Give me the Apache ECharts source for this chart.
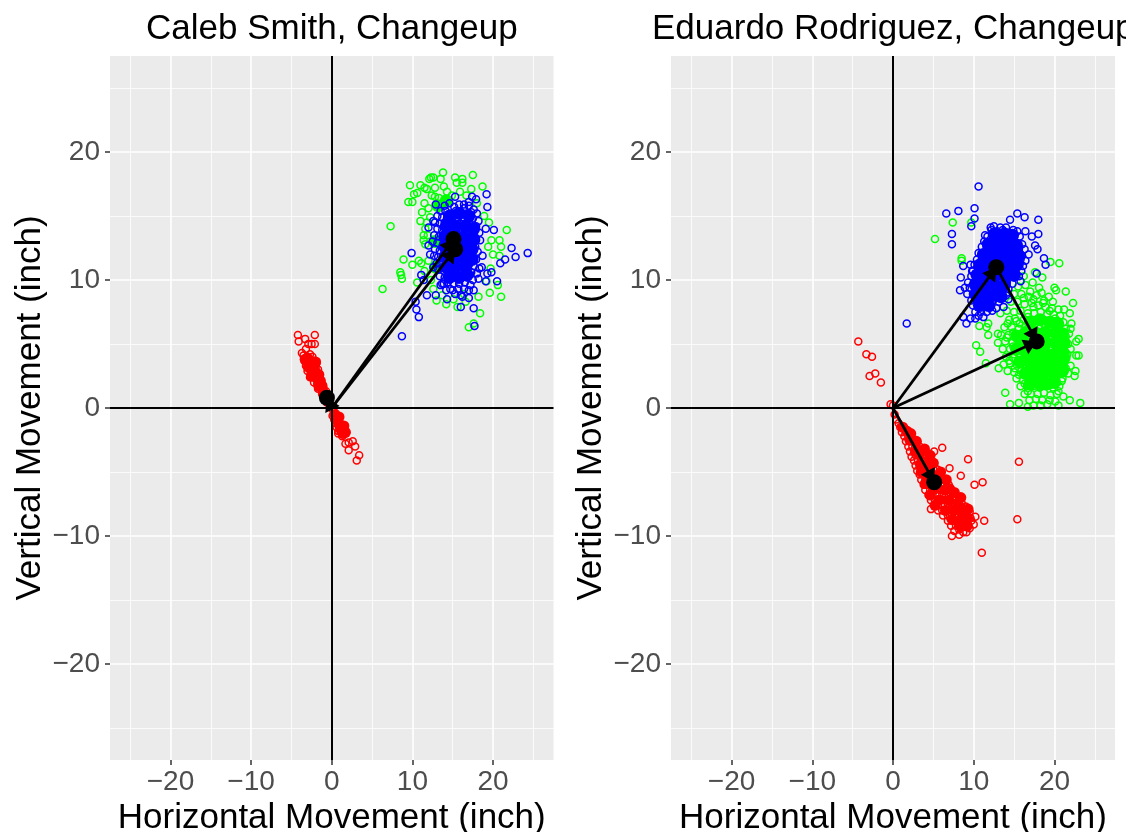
<!DOCTYPE html>
<html>
<head>
<meta charset="utf-8">
<title>Pitch movement, changeup</title>
<script src="https://cdn.jsdelivr.net/npm/echarts@6/dist/echarts.min.js"></script>
<style>
  html, body { margin: 0; padding: 0; background: #fff; }
  #chart { width: 1126px; height: 832px; }
</style>
</head>
<body>
<div id="chart"></div>
<script>
// tick positions
const majorValues = [-20, -10, 0, 10, 20]
const minorValues = [-25, -15, -5, 5, 15, 25]
const axisMin = -27.5
const axisMax = 27.5

const panelTitles = ['Caleb Smith, Changeup', 'Eduardo Rodriguez, Changeup']

// Caleb Smith (inches)
const smithRed = [[-4.2,5.7],[-2.1,5.7],[-4.1,5.2],[-3.3,5.4],[-2.9,5.0],[-2.5,5.0],[-2.1,5.0],[-3.7,4.3],[-3.2,4.6],[-3.5,4.1],[-3.1,4.0],[-2.7,4.2],[-2.4,4.0],[-3.4,3.7],[-3.0,3.6],[-2.6,3.6],[-2.2,3.7],[-1.9,3.5],[-3.2,3.3],[-2.8,3.2],[-2.4,3.2],[-2.0,3.2],[-1.7,3.0],[-3.0,2.9],[-2.6,2.8],[-2.2,2.8],[-1.8,2.7],[-1.5,2.6],[-2.7,2.4],[-2.3,2.4],[-1.9,2.3],[-1.5,2.2],[-2.2,2.0],[-1.8,1.9],[-1.4,1.9],[-1.1,1.8],[-1.7,1.5],[-1.3,1.5],[-1.0,1.4],[-0.7,1.3],[-1.2,1.1],[-0.9,1.0],[-0.5,0.9],[-0.8,0.6],[-0.4,0.5],[-0.2,0.2],[0.1,-0.1],[0.3,-0.3],[0.1,-0.6],[0.5,-0.6],[0.3,-0.9],[0.7,-0.9],[0.5,-1.2],[0.9,-1.1],[1.1,-1.3],[0.6,-1.5],[0.9,-1.5],[1.3,-1.6],[0.8,-1.8],[1.1,-1.9],[1.5,-1.9],[0.8,-2.0],[1.3,-2.2],[1.7,-2.8],[2.1,-2.7],[2.9,-3.0],[2.6,-2.6],[2.1,-3.3],[3.4,-3.7],[3.1,-4.1]]
const smithGreen = [[13.8,18.4],[12.3,18.0],[12.6,18.0],[12.1,17.9],[15.3,18.0],[16.2,17.9],[15.5,17.6],[16.2,17.6],[17.5,18.2],[9.7,17.4],[11.0,17.4],[11.5,17.2],[11.8,17.1],[10.6,16.8],[10.2,16.7],[12.8,17.2],[13.9,17.3],[13.5,17.9],[17.3,17.1],[18.7,17.3],[9.5,16.1],[10.0,16.1],[12.4,16.6],[12.8,16.5],[11.2,15.3],[7.3,14.2],[21.7,13.9],[19.8,13.1],[20.8,13.1],[21.0,12.6],[20.8,11.9],[8.9,11.6],[10.0,11.2],[10.8,11.5],[11.1,11.3],[8.5,10.6],[8.6,10.4],[8.7,10.1],[10.6,9.8],[6.3,9.3],[19.6,9.0],[21.0,8.7],[20.6,9.6],[18.4,7.4],[17.0,6.3],[17.6,6.6],[13.0,8.4],[14.2,8.1],[16.6,8.3],[11.4,13.1],[11.4,13.5],[11.6,12.8],[11.8,14.5],[12.2,14.9],[11.5,16.0],[12.0,15.6],[13.3,16.4],[14.3,16.9],[14.9,16.6],[15.9,16.9],[16.7,16.6],[18.0,16.0],[11.0,14.6],[11.6,14.0],[11.9,13.5],[12.0,11.5],[11.5,10.7],[12.3,10.0],[12.6,9.3],[13.7,8.8],[15.1,8.5],[15.6,7.9],[16.4,8.9],[18.2,8.7],[19.2,9.9],[19.7,10.9],[20.0,12.0],[19.4,12.6],[19.5,14.5],[18.9,15.0]]
const smithBlue = [[19.2,16.7],[19.3,15.7],[17.4,16.5],[17.9,16.3],[17.0,16.1],[16.4,15.9],[15.3,16.5],[12.9,15.9],[19.1,14.0],[20.1,13.9],[18.4,13.1],[18.7,11.9],[22.3,12.5],[22.8,11.8],[24.3,12.1],[21.5,11.6],[20.9,11.3],[19.8,10.6],[19.3,10.5],[20.5,9.9],[18.6,11.0],[9.9,12.1],[11.1,10.4],[11.4,10.0],[12.9,8.8],[11.8,8.8],[10.4,8.3],[10.5,7.7],[10.8,7.1],[8.7,5.6],[16.0,7.9],[17.6,7.8],[17.7,6.4],[14.3,8.5],[16.2,8.7],[17.6,9.2],[19.1,9.9],[12.0,14.1],[12.6,14.6],[12.0,12.7],[12.2,12.0],[12.6,11.0],[13.5,9.6],[14.7,9.3],[13.9,9.7],
[14.0,15.8],[14.6,16.0],[15.2,15.7],[15.8,15.9],[16.4,15.6],[17.0,15.8],[17.6,15.5],[13.5,15.4],[14.1,15.4],[14.8,15.2],[15.4,15.4],[16.0,15.3],[16.7,15.2],[17.3,15.3],[18.0,15.2],[13.1,15.0],[13.7,14.9],[14.3,14.8],[15.0,14.9],[15.6,14.7],[16.3,14.9],[16.9,14.7],[17.5,14.8],[18.2,14.6],[12.8,14.5],[13.4,14.4],[14.0,14.5],[14.6,14.3],[15.3,14.3],[15.9,14.4],[16.6,14.2],[17.2,14.3],[17.9,14.2],[13.1,14.0],[13.7,13.9],[14.3,13.9],[15.0,13.8],[15.7,13.9],[16.3,13.8],[16.9,13.8],[17.5,13.7],[18.3,13.7],[12.7,13.5],[13.3,13.4],[14.0,13.4],[14.6,13.3],[15.4,13.3],[16.1,13.3],[16.7,13.2],[17.3,13.3],[17.9,13.1],[12.5,13.0],[13.1,12.9],[13.8,12.8],[14.4,12.8],[15.9,12.8],[16.5,12.7],[17.1,12.7],[17.8,12.6],[12.8,12.4],[13.4,12.3],[14.1,12.3],[16.2,12.3],[16.8,12.2],[17.4,12.2],[18.1,12.2],[12.7,11.9],[13.2,11.8],[13.9,11.7],[14.6,11.8],[15.3,11.7],[16.0,11.8],[16.6,11.7],[17.2,11.7],[17.9,11.6],[13.0,11.3],[13.6,11.2],[14.3,11.2],[15.0,11.3],[15.7,11.2],[16.4,11.2],[17.0,11.2],[17.6,11.1],[18.3,10.9],[13.2,10.8],[13.9,10.7],[14.6,10.7],[15.2,10.8],[15.9,10.7],[16.6,10.7],[17.3,10.6],[18.0,10.5],[13.4,10.3],[14.0,10.2],[14.7,10.2],[15.4,10.2],[16.1,10.2],[16.8,10.2],[17.5,10.0],[18.2,10.1],[13.7,9.7],[14.4,9.8],[15.1,9.7],[15.8,9.7],[16.5,9.8],[17.2,9.6],[14.2,9.2],[15.0,9.2],[15.7,9.3],[16.4,9.3],[17.0,9.2],[15.3,8.9],[16.0,8.8],[17.0,8.6]]

// Eduardo Rodriguez
const rodriguezRed = [[-4.3,5.2],[-3.3,4.2],[-2.6,4.0],[-2.9,2.5],[-2.2,2.7],[-1.5,2.0],[-0.3,0.3],[0.0,0.2],[6.1,-3.1],[5.1,-3.4],[9.3,-4.0],[7.0,-4.7],[8.4,-5.3],[11.1,-5.8],[10.1,-6.0],[15.6,-4.2],[15.4,-8.7],[11.3,-8.8],[10.2,-8.5],[11.0,-11.3],[7.3,-10.0],[8.2,-9.9],[9.1,-9.7],[10.0,-9.1],[4.7,-7.9],
[0.2,-0.5],[0.4,-0.9],[0.7,-1.2],[0.9,-1.5],[1.3,-1.5],[1.1,-1.9],[1.6,-1.9],[1.4,-2.2],[1.9,-2.2],[2.3,-2.3],[1.6,-2.6],[2.1,-2.6],[2.6,-2.6],[1.9,-3.0],[2.4,-3.0],[2.9,-2.9],[3.3,-3.0],[2.1,-3.4],[2.6,-3.4],[3.1,-3.3],[3.6,-3.4],[2.3,-3.8],[2.8,-3.7],[3.3,-3.7],[3.8,-3.7],[4.2,-3.8],[2.6,-4.1],[3.1,-4.1],[3.6,-4.1],[4.1,-4.1],[4.6,-4.1],[2.8,-4.5],[3.3,-4.5],[3.8,-4.4],[4.3,-4.5],[4.8,-4.4],[3.0,-4.9],[3.5,-4.8],[4.0,-4.9],[4.5,-4.8],[5.0,-4.8],[5.5,-4.8],[3.3,-5.2],[3.8,-5.2],[4.3,-5.3],[4.8,-5.2],[5.3,-5.2],[5.8,-5.2],[3.5,-5.6],[4.0,-5.6],[4.6,-5.6],[5.6,-5.6],[6.1,-5.6],[6.5,-5.7],[3.8,-6.0],[4.3,-6.0],[5.9,-6.0],[6.4,-6.0],[6.9,-6.0],[4.0,-6.4],[4.6,-6.4],[5.2,-6.4],[5.8,-6.4],[6.3,-6.4],[6.8,-6.4],[7.3,-6.5],[4.4,-6.8],[4.9,-6.8],[5.5,-6.8],[6.1,-6.7],[6.6,-6.8],[7.2,-6.8],[7.7,-6.9],[4.7,-7.2],[5.2,-7.2],[5.8,-7.1],[6.4,-7.2],[7.0,-7.2],[7.5,-7.2],[8.0,-7.3],[8.5,-7.4],[5.1,-7.6],[5.6,-7.6],[6.2,-7.6],[6.8,-7.5],[7.3,-7.6],[7.9,-7.6],[8.4,-7.7],[9.0,-7.7],[5.6,-8.0],[6.1,-8.0],[6.7,-8.0],[7.2,-7.9],[7.8,-8.0],[8.3,-8.0],[8.9,-8.1],[9.5,-8.1],[6.2,-8.4],[6.8,-8.4],[7.3,-8.4],[7.9,-8.4],[8.5,-8.4],[9.1,-8.5],[9.6,-8.6],[6.8,-8.8],[7.3,-8.8],[7.9,-8.8],[8.5,-8.9],[9.1,-8.9],[9.7,-8.8],[7.2,-9.2],[7.8,-9.2],[8.4,-9.3],[9.0,-9.3],[9.5,-9.4],[7.6,-9.6],[8.2,-9.5],[8.7,-9.7]]
const rodriguezGreen = [[7.4,14.5],[5.2,13.2],[9.7,14.5],[8.5,11.7],[8.5,11.5],[19.5,11.4],[20.6,11.3],[21.4,9.1],[20.0,9.4],[20.2,9.2],[22.3,8.2],[21.2,7.7],[21.9,7.4],[18.5,10.2],[17.6,10.6],[16.2,10.3],[18.1,9.4],[17.0,9.1],[19.3,8.7],[10.7,6.4],[11.8,6.6],[11.6,6.3],[11.8,5.7],[13.0,5.8],[13.0,5.1],[13.3,7.4],[10.3,4.9],[10.8,4.4],[11.5,3.5],[13.1,3.1],[13.9,1.2],[14.5,0.3],[15.6,0.4],[16.7,0.1],[17.4,0.2],[18.3,0.2],[19.1,0.3],[20.5,0.2],[21.9,0.6],[23.2,0.4],[21.1,0.9],[22.6,2.9],[22.5,2.5],[23.0,4.1],[22.7,4.1],[23.0,5.4],[22.7,5.2],[22.1,6.6],[21.8,5.8],[22.0,6.2],
[15.5,9.5],[16.4,9.6],[17.3,9.8],[18.4,9.0],[15.0,8.9],[15.9,8.9],[16.8,8.7],[17.8,8.8],[18.7,8.4],[19.8,8.3],[14.6,8.3],[15.4,8.3],[16.3,8.1],[17.2,8.2],[18.0,8.0],[18.9,7.9],[19.7,7.8],[20.5,7.7],[14.1,7.6],[15.0,7.5],[15.8,7.6],[16.7,7.4],[17.5,7.4],[18.3,7.5],[19.1,7.3],[19.9,7.3],[20.7,7.2],[14.4,6.9],[15.3,6.8],[16.2,6.9],[17.0,6.8],[17.9,6.8],[18.7,6.9],[19.5,6.8],[20.3,6.7],[21.1,6.7],[13.8,6.3],[14.7,6.3],[15.6,6.2],[16.4,6.4],[17.2,6.3],[18.1,6.2],[18.9,6.3],[19.7,6.2],[20.5,6.2],[21.4,6.2],[13.4,5.7],[14.3,5.7],[15.2,5.8],[16.0,5.7],[19.0,5.7],[19.8,5.8],[20.6,5.6],[21.4,5.6],[13.9,5.2],[14.8,5.1],[15.6,5.2],[16.4,5.1],[19.3,5.2],[20.1,5.1],[20.9,5.2],[21.7,5.0],[13.6,4.6],[14.5,4.6],[15.3,4.5],[16.1,4.6],[17.0,4.4],[17.8,4.4],[18.6,4.5],[19.5,4.5],[20.3,4.6],[21.1,4.5],[22.0,4.6],[14.0,4.0],[14.9,3.9],[15.7,4.0],[16.5,4.0],[17.4,3.9],[18.2,3.9],[19.0,4.0],[19.8,3.9],[20.6,4.0],[21.4,3.9],[13.7,3.4],[14.5,3.5],[15.3,3.4],[16.1,3.4],[17.0,3.3],[17.8,3.4],[18.6,3.4],[19.4,3.3],[20.2,3.4],[21.1,3.3],[22.0,3.3],[14.2,2.9],[15.0,2.8],[15.9,2.9],[16.7,2.8],[17.5,2.8],[18.3,2.9],[19.1,2.8],[20.0,2.8],[20.8,2.8],[21.7,2.7],[15.3,2.3],[16.1,2.2],[17.0,2.3],[17.8,2.2],[18.6,2.3],[19.4,2.2],[20.2,2.2],[21.0,2.3],[15.8,1.7],[16.6,1.7],[17.4,1.7],[18.2,1.6],[19.0,1.7],[19.8,1.6],[20.6,1.7],[16.3,1.1],[17.1,1.1],[17.9,1.1],[18.7,1.2],[19.5,1.0],[20.3,1.1],[16.9,0.6],[17.7,0.7],[18.5,0.6],[19.4,0.6],[20.1,0.5],
[15.1,7.0],[15.7,6.6],[16.7,7.1],[17.4,7.9],[18.6,8.2],[19.4,7.6],[20.1,7.0],[14.2,6.6],[14.9,5.9],[15.4,5.4],[14.1,5.5],[14.9,4.8],[15.0,4.2],[14.4,3.7],[15.6,3.7],[15.1,3.1],[15.6,2.6],[16.3,1.9],[16.7,1.3],[21.3,5.2],[21.6,4.2],[21.4,3.1],[20.9,2.1],[20.5,1.3],[17.4,8.5],[16.2,8.6]]
const rodriguezBlue = [[10.6,17.3],[6.6,15.2],[8.1,15.4],[10.1,15.6],[10.1,14.8],[9.7,14.2],[7.3,13.6],[7.3,12.8],[15.4,15.2],[16.3,14.9],[18.0,14.7],[14.5,14.7],[18.0,13.6],[16.4,13.8],[15.4,13.8],[17.2,13.4],[17.6,12.7],[17.9,12.4],[18.7,11.7],[18.9,11.2],[17.8,10.5],[15.8,9.9],[16.8,12.0],[8.7,11.1],[9.6,11.2],[8.4,10.2],[9.8,10.7],[8.3,9.2],[8.9,9.4],[8.7,7.1],[9.1,6.6],[10.2,7.0],[9.6,7.0],[10.6,7.2],[13.7,7.9],[14.3,8.5],[11.4,13.5],[12.1,14.1],[12.5,14.2],[13.3,14.1],[14.0,14.1],[1.7,6.6],
[12.2,13.9],[12.9,13.8],[13.6,13.9],[14.3,13.7],[14.9,13.9],[11.7,13.4],[12.4,13.4],[13.0,13.4],[13.7,13.5],[14.4,13.3],[15.0,13.4],[15.7,13.4],[11.3,13.0],[11.9,13.0],[12.6,12.9],[13.2,13.0],[13.9,12.9],[14.6,13.0],[15.3,12.9],[16.0,12.8],[11.0,12.6],[11.6,12.5],[12.3,12.5],[12.9,12.6],[13.6,12.5],[14.2,12.5],[14.9,12.6],[15.6,12.4],[16.3,12.4],[10.6,12.1],[11.3,12.1],[12.0,12.0],[12.6,12.1],[13.3,12.0],[14.0,12.1],[14.6,12.0],[15.3,12.1],[16.0,11.9],[10.4,11.6],[11.0,11.6],[11.7,11.7],[13.8,11.7],[14.4,11.6],[15.1,11.6],[15.8,11.6],[16.4,11.5],[10.1,11.2],[10.8,11.2],[11.4,11.2],[14.1,11.2],[14.8,11.2],[15.5,11.1],[16.1,11.1],[9.9,10.7],[10.5,10.7],[11.2,10.8],[11.9,10.6],[12.6,10.7],[13.3,10.6],[14.0,10.7],[14.6,10.7],[15.2,10.6],[15.9,10.7],[9.7,10.3],[10.3,10.3],[11.0,10.2],[11.7,10.3],[12.3,10.2],[13.0,10.3],[13.7,10.2],[14.4,10.3],[15.0,10.2],[15.6,10.3],[9.3,9.8],[10.0,9.8],[10.6,9.9],[11.3,9.8],[12.0,9.8],[12.7,9.8],[13.4,9.8],[14.1,9.8],[14.8,9.7],[9.5,9.4],[10.2,9.3],[10.9,9.4],[11.6,9.3],[12.2,9.4],[12.9,9.3],[13.6,9.4],[14.3,9.3],[9.2,8.9],[9.9,8.9],[10.5,8.9],[11.2,8.9],[11.9,8.9],[12.6,8.8],[13.3,8.9],[14.0,8.8],[9.7,8.4],[10.4,8.4],[11.1,8.5],[11.7,8.4],[12.4,8.4],[13.1,8.3],[9.9,8.0],[10.6,7.9],[11.3,7.9],[12.0,8.0],[12.8,7.8],[10.2,7.5],[10.9,7.5],[11.6,7.5],[12.3,7.6],[11.2,7.1]]

// overplotted areas where the rings merge into solid colour
const smithRedSolid = [[-3.0,3.9],[-2.4,3.6],[-2.9,3.2],[-2.2,3.0],[-2.5,2.5],[-1.8,2.3],[-1.2,1.7],[-1.6,1.7],[-1.0,1.1],[-0.5,0.5],[0.4,-0.5],[0.8,-1.1],[1.1,-1.6],[1.4,-2.0],[-3.3,3.8],[-2.0,3.6],[-2.0,2.8],[-1.6,2.6],[-1.4,2.1],[1.7,-1.9],[0.9,-0.7],[1.5,-1.4]]
const smithGreenSolid = [[13.2,15.8],[14.2,16.2],[12.8,13.0],[12.9,11.0]]
const smithBlueSolid = [[14.6,15.0],[15.8,15.2],[17.0,15.0],[14.2,14.2],[15.4,14.2],[16.6,14.2],[17.6,14.0],[14.0,13.4],[15.2,13.4],[16.4,13.4],[17.6,13.2],[14.0,12.6],[15.2,12.6],[16.4,12.6],[17.4,12.4],[14.0,11.8],[15.2,11.8],[16.4,11.8],[17.4,11.6],[14.2,11.0],[15.4,11.0],[16.6,11.0],[14.6,10.2],[15.8,10.2],[16.8,10.4]]
const rodriguezRedSolid = [[1.2,-1.5],[2.1,-2.5],[2.8,-3.4],[3.4,-3.5],[3.4,-4.4],[4.4,-4.5],[4.2,-5.4],[5.4,-5.4],[5.1,-6.3],[6.4,-6.4],[5.7,-7.2],[6.9,-7.2],[8.0,-7.5],[6.5,-8.0],[7.6,-8.0],[8.7,-8.1],[7.3,-8.7],[8.4,-8.7],[9.2,-8.6],[8.3,-9.2],[4.6,-3.7],[3.9,-3.2],[2.2,-2.0],[1.7,-1.8],[2.9,-2.6],[5.0,-4.3],[5.9,-5.0],[6.6,-5.6],[7.0,-6.3],[7.6,-6.6],[8.4,-7.0],[3.5,-5.0],[4.0,-5.9],[4.6,-6.8],[5.2,-7.6],[9.3,-7.9],[9.2,-9.2]]
const rodriguezGreenSolid = [[17.0,6.7],[18.2,6.9],[19.4,6.7],[20.4,6.6],[16.4,5.9],[17.6,5.9],[18.8,5.9],[20.1,5.9],[21.0,5.8],[16.3,5.1],[17.6,5.1],[18.9,5.1],[20.2,5.1],[21.2,5.1],[16.5,4.3],[17.7,4.3],[18.9,4.3],[20.2,4.3],[21.1,4.3],[17.0,3.5],[18.2,3.5],[19.5,3.5],[20.7,3.5],[17.5,2.7],[18.6,2.7],[19.9,2.7],[18.2,1.9],[19.2,1.9],[20.0,2.0],[15.4,5.6],[15.3,4.6],[15.7,3.6],[16.4,2.7],[17.0,1.9],[21.2,3.9],[21.0,2.9]]
const rodriguezBlueSolid = [[12.6,13.6],[13.8,13.6],[14.8,13.5],[11.8,12.8],[13.0,12.8],[14.2,12.8],[15.3,12.7],[11.2,12.0],[12.4,12.0],[13.6,12.0],[14.8,12.0],[15.6,11.9],[10.8,11.2],[12.0,11.2],[13.2,11.2],[14.4,11.2],[15.4,11.2],[10.4,10.4],[11.6,10.4],[12.8,10.4],[14.0,10.4],[15.0,10.4],[10.2,9.6],[11.4,9.6],[12.6,9.6],[13.8,9.6],[10.3,8.8],[11.5,8.8],[12.7,8.8],[13.4,8.7],[10.7,8.0],[11.9,8.0]]

// group means: [red, green, blue]
const smithMeans = [[-0.6, 0.8], [15.1, 13.2], [15.3, 12.4]]
const rodriguezMeans = [[5.1, -5.8], [17.8, 5.2], [12.8, 11.0]]

// tick length in axis units, 5px on each axis
const tickLengthX = 0.62
const tickLengthY = 0.39

// arrow head with its tip at the centre of the symbol box, so the tip lands on the mean
const arrowHead = 'path://M13,13L21,26L5,26ZM0,0L0,0ZM26,0L26,0Z'

function linesSeries(data, color, width, z, index, extra) {
  return Object.assign({
    type: 'lines',
    coordinateSystem: 'cartesian2d',
    xAxisIndex: index,
    yAxisIndex: index,
    silent: true,
    symbol: 'none',
    z: z,
    lineStyle: {color: color, width: width, opacity: 1},
    data: data
  }, extra)
}

function gridLines(values) {
  const data = []
  values.forEach(v => {
    data.push({coords: [[v, axisMin], [v, axisMax]]})
    data.push({coords: [[axisMin, v], [axisMax, v]]})
  })
  return data
}

function tickLines() {
  const data = []
  majorValues.forEach(v => {
    data.push({coords: [[v, axisMin], [v, axisMin - tickLengthY]]})
    data.push({coords: [[axisMin, v], [axisMin - tickLengthX, v]]})
  })
  return data
}

function ringSeries(points, color, index) {
  return {
    type: 'scatter',
    xAxisIndex: index,
    yAxisIndex: index,
    symbol: 'circle',
    symbolSize: 7,
    silent: true,
    z: 2,
    itemStyle: {color: 'transparent', borderColor: color, borderWidth: 1.5, opacity: 1},
    data: points
  }
}

function solidSeries(points, color, size, index, z) {
  return {
    type: 'scatter',
    xAxisIndex: index,
    yAxisIndex: index,
    symbolSize: size,
    silent: true,
    z: z || 2,
    itemStyle: {color: color, opacity: 1},
    data: points
  }
}

function panelSeries(red, green, blue, solids, means, index) {
  const [redMean, greenMean, blueMean] = means
  return [
    linesSeries(gridLines(minorValues), '#fff', 0.8, 1, index),
    linesSeries(gridLines(majorValues), '#fff', 1.6, 1, index),
    linesSeries(tickLines(), '#333', 1.5, 1, index, {clip: false}),
    solidSeries(solids[0], '#FF0000', 11, index),
    ringSeries(red, '#FF0000', index),
    solidSeries(solids[1], '#00FF00', 13, index),
    ringSeries(green, '#00FF00', index),
    solidSeries(solids[2], '#0000FF', 13, index),
    ringSeries(blue, '#0000FF', index),
    // zero lines
    linesSeries([{coords: [[axisMin, 0], [axisMax, 0]]}, {coords: [[0, axisMin], [0, axisMax]]}], '#000', 2, 4, index),
    // arrows between the means
    linesSeries([
      {coords: [[0, 0], redMean]},
      {coords: [[0, 0], blueMean]},
      {coords: [[0, 0], greenMean]},
      {coords: [blueMean, greenMean]}
    ], '#000', 2.8, 5, index, {symbol: ['none', arrowHead], symbolSize: 26}),
    solidSeries(means, '#000', 16, index, 6)
  ]
}

function axisCommon(name, index, gap, rotate, margin) {
  return {
    type: 'value',
    gridIndex: index,
    min: axisMin,
    max: axisMax,
    name: name,
    nameLocation: 'middle',
    nameGap: gap,
    nameRotate: rotate,
    nameTextStyle: {color: '#000', fontSize: 35, fontFamily: 'Liberation Sans'},
    axisLine: {show: false},
    axisTick: {show: false},
    axisLabel: {
      customValues: majorValues,
      color: '#4D4D4D',
      fontSize: 28,
      fontFamily: 'Liberation Sans',
      margin: margin,
      formatter: v => String(v).replace('-', '\u2212')
    },
    splitLine: {show: false}
  }
}

const titleStyle = {color: '#000', fontSize: 35, fontWeight: 'normal', fontFamily: 'Liberation Sans'}

const chart = echarts.init(document.getElementById('chart'), null, {renderer: 'canvas'})
chart.setOption({
  animation: false,
  backgroundColor: '#fff',
  title: [
    {text: panelTitles[0], left: 141, top: 7, textStyle: titleStyle},
    {text: panelTitles[1], left: 647, top: 7, textStyle: titleStyle}
  ],
  grid: [
    {left: 110, top: 56, width: 443.5, height: 704, show: true, backgroundColor: '#EBEBEB', borderWidth: 0, outerBoundsMode: 'none'},
    {left: 671, top: 56, width: 444, height: 704, show: true, backgroundColor: '#EBEBEB', borderWidth: 0, outerBoundsMode: 'none'}
  ],
  xAxis: [
    axisCommon('Horizontal Movement (inch)', 0, 40, 0, 8),
    axisCommon('Horizontal Movement (inch)', 1, 40, 0, 8)
  ],
  yAxis: [
    axisCommon('Vertical Movement (inch)', 0, 62, 90, 10),
    axisCommon('Vertical Movement (inch)', 1, 62, 90, 10)
  ],
  series: [
    ...panelSeries(smithRed, smithGreen, smithBlue, [smithRedSolid, smithGreenSolid, smithBlueSolid], smithMeans, 0),
    ...panelSeries(rodriguezRed, rodriguezGreen, rodriguezBlue, [rodriguezRedSolid, rodriguezGreenSolid, rodriguezBlueSolid], rodriguezMeans, 1)
  ]
})
</script>
</body>
</html>
